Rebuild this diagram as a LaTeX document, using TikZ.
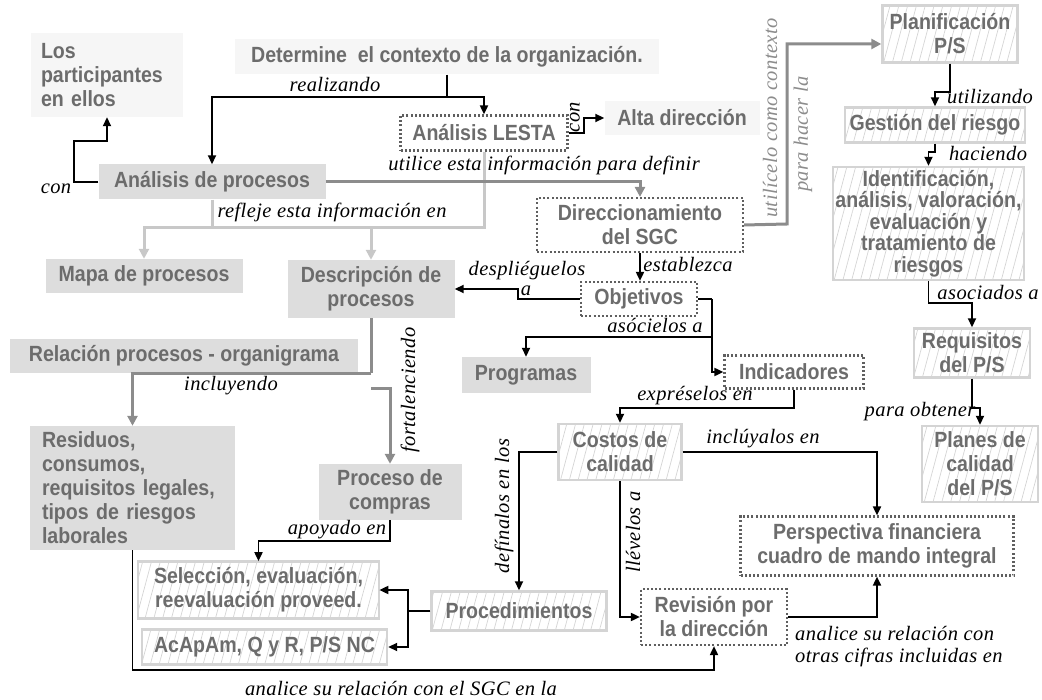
\documentclass[tikz,border=0pt]{standalone}
\usepackage{fontspec}
\usetikzlibrary{arrows.meta,calc,patterns.meta}
\newfontfamily\boxfont[FakeStretch=0.89]{Liberation Sans}
\newfontfamily\lblfont[LetterSpace=2]{Liberation Serif}

\definecolor{txtgray}{RGB}{108,108,108}
\definecolor{fillLight}{RGB}{246,246,246}
\definecolor{fillGray}{RGB}{221,221,221}
\definecolor{hatchgray}{RGB}{212,212,212}
\definecolor{dotgray}{RGB}{95,95,95}
\definecolor{linegray}{RGB}{140,140,140}
\definecolor{lightline}{RGB}{200,200,200}

\tikzset{
  box/.style={font=\boxfont\bfseries\fontsize{22}{24}\selectfont, text=txtgray, align=center, inner sep=0pt},
  lightbox/.style={box, fill=fillLight},
  graybox/.style={box, fill=fillGray},
  dotbox/.style={box, draw=dotgray, line width=2.2pt, dash pattern=on 2pt off 2.2pt},
  hatchbox/.style={box, draw=hatchgray, line width=2.4pt,
    pattern={Lines[angle=75,distance=8.5pt,line width=0.7pt]}, pattern color=hatchgray},
  lbl/.style={font=\lblfont\itshape\fontsize{20.5}{22}\selectfont, inner sep=0pt},
  link/.style={line width=1.8pt, ->},
  plain/.style={line width=1.8pt},
  glink/.style={line width=3pt, draw=linegray, -{Triangle[length=10pt,width=10pt]}},
  gline/.style={line width=3pt, draw=linegray},
  llink/.style={line width=3pt, draw=lightline, -{Triangle[length=10pt,width=10pt]}},
  lline/.style={line width=3pt, draw=lightline},
}

\begin{document}
\begin{tikzpicture}[x=1pt,y=-1pt,>={Triangle[length=9pt,width=8pt]}]
\useasboundingbox (0,0) rectangle (1042,700);

% ---------- context and process analysis ----------
\node[lightbox, minimum width=152pt, minimum height=84pt, text width=132pt, align=left] (part) at (107,75) {Los\\participantes\\en ellos};
\node[lightbox, minimum width=424pt, minimum height=35pt] (det) at (447,57) {Determine\ \ el contexto de la organización.};
\node[graybox, minimum width=227pt, minimum height=35pt] (adp) at (212,182) {Análisis de procesos};
\node[dotbox, minimum width=167pt, minimum height=35pt] (lesta) at (484,133) {Análisis LESTA};
\node[lightbox, minimum width=155pt, minimum height=34pt] (alta) at (682,118) {Alta dirección};
\node[dotbox, minimum width=206pt, minimum height=54pt] (dir) at (640,225) {Direccionamiento\\del SGC};

% ---------- process documents ----------
\node[graybox, minimum width=197pt, minimum height=34pt] (mapa) at (144,276) {Mapa de procesos};
\node[graybox, minimum width=167pt, minimum height=58pt] (desc) at (371,289) {Descripción de\\procesos};
\node[graybox, minimum width=348pt, minimum height=34pt] (rel) at (184,356) {Relación procesos - organigrama};
\node[graybox, minimum width=205pt, minimum height=124pt, text width=181pt, align=left] (resid) at (132.5,488) {Residuos,\\consumos,\\requisitos legales,\\tipos de riesgos\\laborales};
\node[graybox, minimum width=143pt, minimum height=56pt] (compras) at (390,492) {Proceso de\\compras};
\node[hatchbox, minimum width=241pt, minimum height=57pt] (sel) at (258.5,590) {Selección, evaluación,\\reevaluación proveed.};
\node[hatchbox, minimum width=245pt, minimum height=35pt] (acap) at (264.5,647) {AcApAm, Q y R, P/S NC};
\node[hatchbox, minimum width=175pt, minimum height=39pt] (proc) at (519,611) {Procedimientos};

% ---------- objectives and costs ----------
\node[dotbox, minimum width=116pt, minimum height=34pt] (obj) at (639,299) {Objetivos};
\node[graybox, minimum width=129pt, minimum height=36pt] (prog) at (526,375) {Programas};
\node[dotbox, minimum width=139pt, minimum height=33pt] (ind) at (794,372) {Indicadores};
\node[hatchbox, minimum width=123pt, minimum height=56pt] (costos) at (620,452) {Costos de\\calidad};
\node[dotbox, minimum width=273pt, minimum height=59pt] (persp) at (877,546) {Perspectiva financiera\\cuadro de mando integral};
\node[dotbox, minimum width=146pt, minimum height=56pt] (rev) at (714,617) {Revisión por\\la dirección};

% ---------- product / service planning ----------
\node[hatchbox, minimum width=135pt, minimum height=57pt] (plan) at (950,34) {Planificación\\P/S};
\node[hatchbox, minimum width=180pt, minimum height=35pt] (gest) at (935,125) {Gestión del riesgo};
\node[hatchbox, minimum width=191pt, minimum height=113pt, font=\boxfont\bfseries\fontsize{22}{21.5}\selectfont] (ident) at (928.5,223.5) {Identificación,\\análisis, valoración,\\evaluación y\\tratamiento de\\riesgos};
\node[hatchbox, minimum width=116pt, minimum height=49pt] (req) at (972,353) {Requisitos\\del P/S};
\node[hatchbox, minimum width=116pt, minimum height=76pt] (planes) at (980,464) {Planes de\\calidad\\del P/S};

% ---------- junctions ----------
\coordinate (jdet) at (447,97);
\coordinate (jles) at (484,228);
\coordinate (jobj) at (712,299);
\coordinate (jproc) at (408,611);

% ---------- light and dark gray connectors ----------
\draw[lline] (lesta.south) -- (jles) -- (jles -| adp.south);
\draw[llink] (jles -| adp.south) -| (mapa.north);
\draw[llink] (jles -| desc.north) -- (desc.north);
\draw[lline] (adp.south) -- (adp.south |- jles);
\draw[glink] (adp.east) -| (dir.north);
\draw[glink] (dir.east) -- (787,224) |- ([yshift=-10pt]plan.west);
\draw[gline] (desc.south |- rel.south) -- (desc.south);
\draw[glink] (desc.south |- rel.south) -| (resid.north);
\draw[glink] (desc.south |- 0,389) -- (390,389) -- (compras.north);

% ---------- black connectors ----------
\draw[plain] (det.south) -- (jdet);
\draw[link] (jdet) -| (lesta.north);
\draw[link] (jdet) -| (adp.north);
\draw[link] (adp.west) -| (74,141) -| (part.south);
\draw[link] (lesta.east) -- ++(15,0) |- (alta.west);
\draw[link] (dir.south) -- (dir.south |- obj.north);
\draw[link] (obj.west) -- (518,299) |- (desc.east);
\draw[plain] (obj.east) -- (jobj);
\draw[link] (jobj) |- (ind.west);
\draw[link] (712,337) -| (prog.north);
\draw[link] (ind.south) -- (794,408) -| (costos.north);
\draw[link] (costos.east) -| (persp.north);
\draw[link] (costos.west) -| (proc.north);
\draw[link] (costos.south) |- (rev.west);
\draw[link] (rev.east) -| (persp.south);
\draw[link] (resid.south) -- (132.5,670) -| (rev.south);
\draw[link] (compras.south) -- (390,541) -| (sel.north);
\draw[plain] (proc.west) -- (jproc);
\draw[link] (jproc) |- (sel.east);
\draw[link] (jproc) |- (acap.east);
\draw[link] (plan.south) -- (950,92) -| (gest.north);
\draw[link] (gest.south) -- ++(0,8) -| (ident.north);
\draw[link] (ident.south) -- (928.5,303) -| (req.north);
\draw[link] (req.south) -- (972,408) -| (planes.north);

% ---------- connector labels ----------
\node[lbl] (lreal) at (335,84) {realizando};
\node[lbl] (lcon) at (56,189) {con};
\node[lbl, rotate=90] (lcon2) at (575,117) {con};
\node[lbl] (lutil) at (544,165) {utilice esta información para definir};
\node[lbl] (lref) at (332,212) {refleje esta información en};
\node[lbl, rotate=90, text=linegray] (lctx) at (770,118) {utilícelo como contexto};
\node[lbl, rotate=90, text=linegray] (lctx2) at (803,134) {para hacer la};
\node[lbl] (lest) at (688,264) {establezca};
\node[lbl] (ldesp) at (527,271) {despliéguelos};
\node[lbl] (ldespa) at (526,291) {a};
\node[lbl] (laso) at (655,325) {asócielos a};
\node[lbl, rotate=90] (lfort) at (410,390) {fortalenciendo};
\node[lbl] (linc) at (231,386) {incluyendo};
\node[lbl] (lexp) at (695,396) {expréselos en};
\node[lbl] (lincl) at (763,439) {inclúyalos en};
\node[lbl] (lapo) at (337,530) {apoyado en};
\node[lbl, rotate=90] (ldef) at (504,506) {defínalos en los};
\node[lbl, rotate=90] (llev) at (633,532) {llévelos a};
\node[lbl, anchor=west, align=left] (lcif) at (795,647) {analice su relación con\\otras cifras incluidas en};
\node[lbl] (lsgc) at (401,688) {analice su relación con el SGC en la};
\node[lbl] (lutz) at (990,97) {utilizando};
\node[lbl] (lhac) at (988,153) {haciendo};
\node[lbl] (lasoc) at (988,292) {asociados a};
\node[lbl] (lobt) at (920,412) {para obtener};

\end{tikzpicture}
\end{document}
